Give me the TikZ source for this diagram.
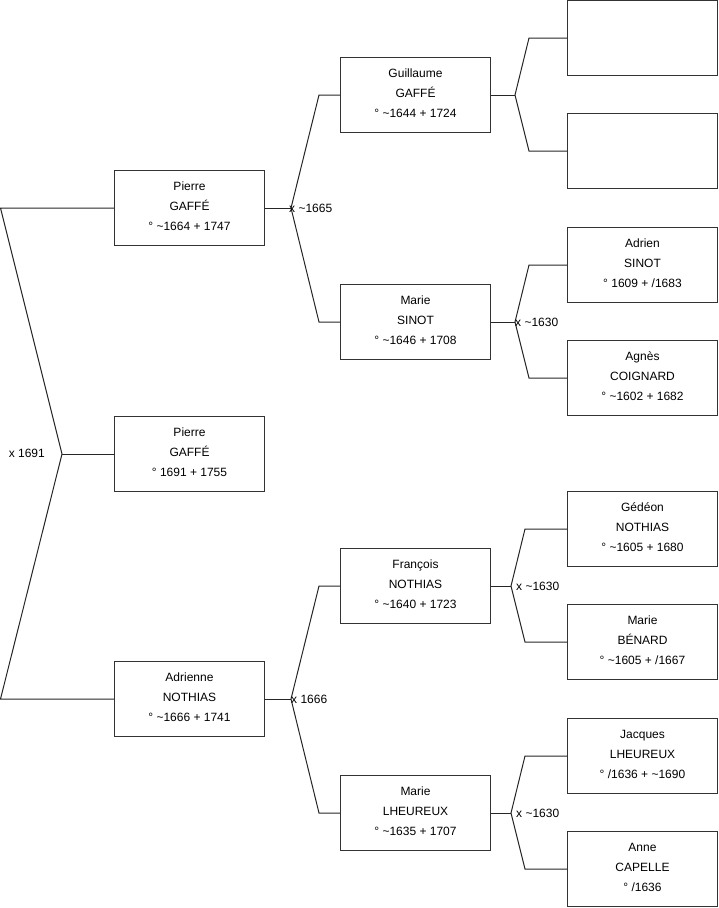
\documentclass[tikz,border=0pt]{standalone}
\usepackage{fontspec}
\setmainfont{Liberation Sans}
\begin{document}
\begin{tikzpicture}[x=1pt,y=-1pt,
  person/.style={draw=black!80,line width=1pt,minimum width=150pt,minimum height=75pt,inner sep=0pt,align=center,font=\fontsize{12}{20}\selectfont,text depth=4pt,fill=white},
  conn/.style={draw=black!85,line width=1pt},
  lbl/.style={inner sep=0pt,anchor=west,font=\fontsize{12}{14}\selectfont}]
\useasboundingbox (0,0) rectangle (719,908);
% column 0
\node[person] (pere) at (189.5,208) {Pierre\\GAFFÉ\\° \textasciitilde1664 + 1747};
\node[person] (moi) at (189.5,454) {Pierre\\GAFFÉ\\° 1691 + 1755};
\node[person] (mere) at (189.5,699) {Adrienne\\NOTHIAS\\° \textasciitilde1666 + 1741};
% column 1
\node[person] (gg) at (415.5,95) {Guillaume\\GAFFÉ\\° \textasciitilde1644 + 1724};
\node[person] (ms) at (415.5,322) {Marie\\SINOT\\° \textasciitilde1646 + 1708};
\node[person] (fn) at (415.5,586) {François\\NOTHIAS\\° \textasciitilde1640 + 1723};
\node[person] (ml) at (415.5,813) {Marie\\LHEUREUX\\° \textasciitilde1635 + 1707};
% column 2
\node[person] (e1) at (642.5,38) {};
\node[person] (e2) at (642.5,151) {};
\node[person] (as) at (642.5,265) {Adrien\\SINOT\\° 1609 + /1683};
\node[person] (ac) at (642.5,378) {Agnès\\COIGNARD\\° \textasciitilde1602 + 1682};
\node[person] (gn) at (642.5,529) {Gédéon\\NOTHIAS\\° \textasciitilde1605 + 1680};
\node[person] (mb) at (642.5,642) {Marie\\BÉNARD\\° \textasciitilde1605 + /1667};
\node[person] (jl) at (642.5,756) {Jacques\\LHEUREUX\\° /1636 + \textasciitilde1690};
\node[person] (ca) at (642.5,869) {Anne\\CAPELLE\\° /1636};
% level 0
\coordinate (j0) at (62,454);
\coordinate (a0) at (0.5,208);
\coordinate (b0) at (0.5,699);
\draw[conn] (moi.west) -- (j0);
\draw[conn] (pere.west) -- (a0) -- (j0) -- (b0) -- (mere.west);
\node[lbl,anchor=east] at (45,453) {x 1691};
% level 1
\coordinate (j1) at (291,208);
\draw[conn] (pere.east) -- (j1);
\draw[conn] (gg.west) -- ([xshift=-21pt]gg.west) -- (j1) -- ([xshift=-21pt]ms.west) -- (ms.west);
\node[lbl] at ([xshift=-2pt]j1) {x \textasciitilde1665};
\coordinate (j2) at (291,699);
\draw[conn] (mere.east) -- (j2);
\draw[conn] (fn.west) -- ([xshift=-21pt]fn.west) -- (j2) -- ([xshift=-21pt]ml.west) -- (ml.west);
\node[lbl] at ([xshift=0pt]j2) {x 1666};
% level 2
\coordinate (k1) at (515,95);
\draw[conn] (gg.east) -- (k1);
\draw[conn] (e1.west) -- ([xshift=-38pt]e1.west) -- (k1) -- ([xshift=-38pt]e2.west) -- (e2.west);
\coordinate (k2) at (515,322);
\draw[conn] (ms.east) -- (k2);
\draw[conn] (as.west) -- ([xshift=-38pt]as.west) -- (k2) -- ([xshift=-38pt]ac.west) -- (ac.west);
\node[lbl] at ([xshift=0pt]k2) {x \textasciitilde1630};
\coordinate (k3) at (511,586);
\draw[conn] (fn.east) -- (k3);
\draw[conn] (gn.west) -- ([xshift=-42pt]gn.west) -- (k3) -- ([xshift=-42pt]mb.west) -- (mb.west);
\node[lbl] at ([xshift=5pt]k3) {x \textasciitilde1630};
\coordinate (k4) at (511,813);
\draw[conn] (ml.east) -- (k4);
\draw[conn] (jl.west) -- ([xshift=-42pt]jl.west) -- (k4) -- ([xshift=-42pt]ca.west) -- (ca.west);
\node[lbl] at ([xshift=5pt]k4) {x \textasciitilde1630};
\end{tikzpicture}
\end{document}
